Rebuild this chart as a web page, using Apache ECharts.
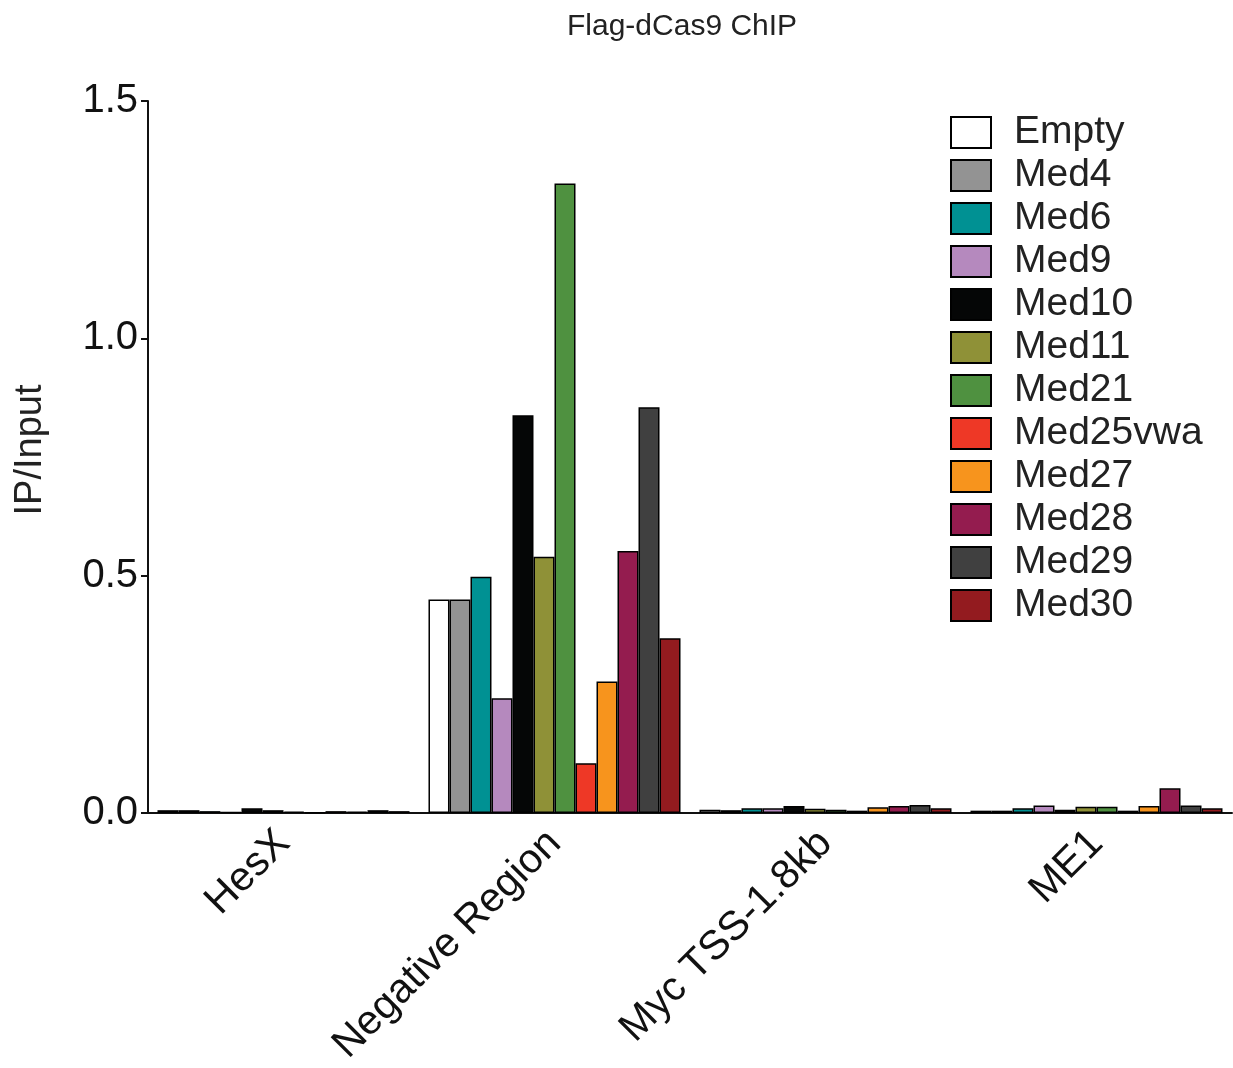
<!DOCTYPE html>
<html>
<head>
<meta charset="utf-8">
<script src="https://cdn.jsdelivr.net/npm/echarts@6/dist/echarts.min.js"></script>
<style>html,body{margin:0;padding:0;background:#fff}#c{width:1233px;height:1068px}</style>
</head>
<body>
<div id="c"></div>
<script>
const categories = ['HesX', 'Negative Region', 'Myc TSS-1.8kb', 'ME1'];
const seriesNames = ['Empty','Med4','Med6','Med9','Med10','Med11','Med21','Med25vwa','Med27','Med28','Med29','Med30'];
const colors = ['#ffffff','#939393','#009193','#b589be','#050606','#8f9137','#4f9140','#ee3826','#f7941d','#941c4f','#404040','#931b1f'];
const Empty    = [0.006, 0.450, 0.007, 0.005];
const Med4     = [0.006, 0.450, 0.006, 0.005];
const Med6     = [0.004, 0.498, 0.010, 0.010];
const Med9     = [0.002, 0.242, 0.010, 0.016];
const Med10    = [0.010, 0.838, 0.015, 0.007];
const Med11    = [0.006, 0.540, 0.009, 0.013];
const Med21    = [0.003, 1.326, 0.007, 0.013];
const Med25vwa = [0.001, 0.105, 0.005, 0.005];
const Med27    = [0.004, 0.277, 0.012, 0.015];
const Med28    = [0.003, 0.552, 0.015, 0.052];
const Med29    = [0.006, 0.855, 0.017, 0.016];
const Med30    = [0.004, 0.368, 0.010, 0.010];
const values = [Empty, Med4, Med6, Med9, Med10, Med11, Med21, Med25vwa, Med27, Med28, Med29, Med30];
const yTicks = [0, 0.5, 1.0, 1.5];

const FONT = '"Liberation Sans", Arial, Helvetica, sans-serif';
const chart = echarts.init(document.getElementById('c'));
chart.setOption({
  animation: false,
  backgroundColor: '#ffffff',
  title: {
    text: 'Flag-dCas9 ChIP',
    left: 567,
    top: 12,
    padding: 0,
    textStyle: { fontFamily: FONT, fontSize: 30, fontWeight: 'normal', color: '#222' }
  },
  legend: {
    orient: 'vertical',
    left: 950,
    top: 113,
    padding: 0,
    icon: 'rect',
    itemWidth: 40,
    itemHeight: 31,
    itemGap: 4,
    data: seriesNames,
    textStyle: { fontFamily: FONT, fontSize: 39, lineHeight: 39, color: '#222', padding: [0, 0, 0, 18] }
  },
  grid: { left: 148, right: 1, top: 101, bottom: 253, containLabel: false },
  xAxis: {
    type: 'category',
    data: categories,
    axisLine: { lineStyle: { color: '#111', width: 2 } },
    axisTick: { alignWithLabel: true, length: 12, lineStyle: { color: '#111', width: 2 } },
    axisLabel: { rotate: 45, margin: 24, fontFamily: FONT, fontSize: 41, color: '#111', interval: 0 },
    splitLine: { show: false }
  },
  yAxis: {
    type: 'value',
    min: yTicks[0],
    max: yTicks[yTicks.length - 1],
    interval: 0.5,
    name: 'IP/Input',
    nameLocation: 'middle',
    nameGap: 98,
    nameTextStyle: { fontFamily: FONT, fontSize: 38, color: '#222', padding: [0, 0, 0, 14] },
    axisLine: { show: true, lineStyle: { color: '#111', width: 2 } },
    axisTick: { show: true, length: 7, lineStyle: { color: '#111', width: 2 } },
    axisLabel: { margin: 10, fontFamily: FONT, fontSize: 40, color: '#111', formatter: v => v.toFixed(1) },
    splitLine: { show: false }
  },
  series: seriesNames.map((n, i) => ({
    name: n,
    type: 'bar',
    data: values[i],
    barGap: 0,
    barCategoryGap: '7%',
    itemStyle: { color: colors[i], borderColor: '#000', borderWidth: 1.5 }
  }))
});
</script>
</body>
</html>
